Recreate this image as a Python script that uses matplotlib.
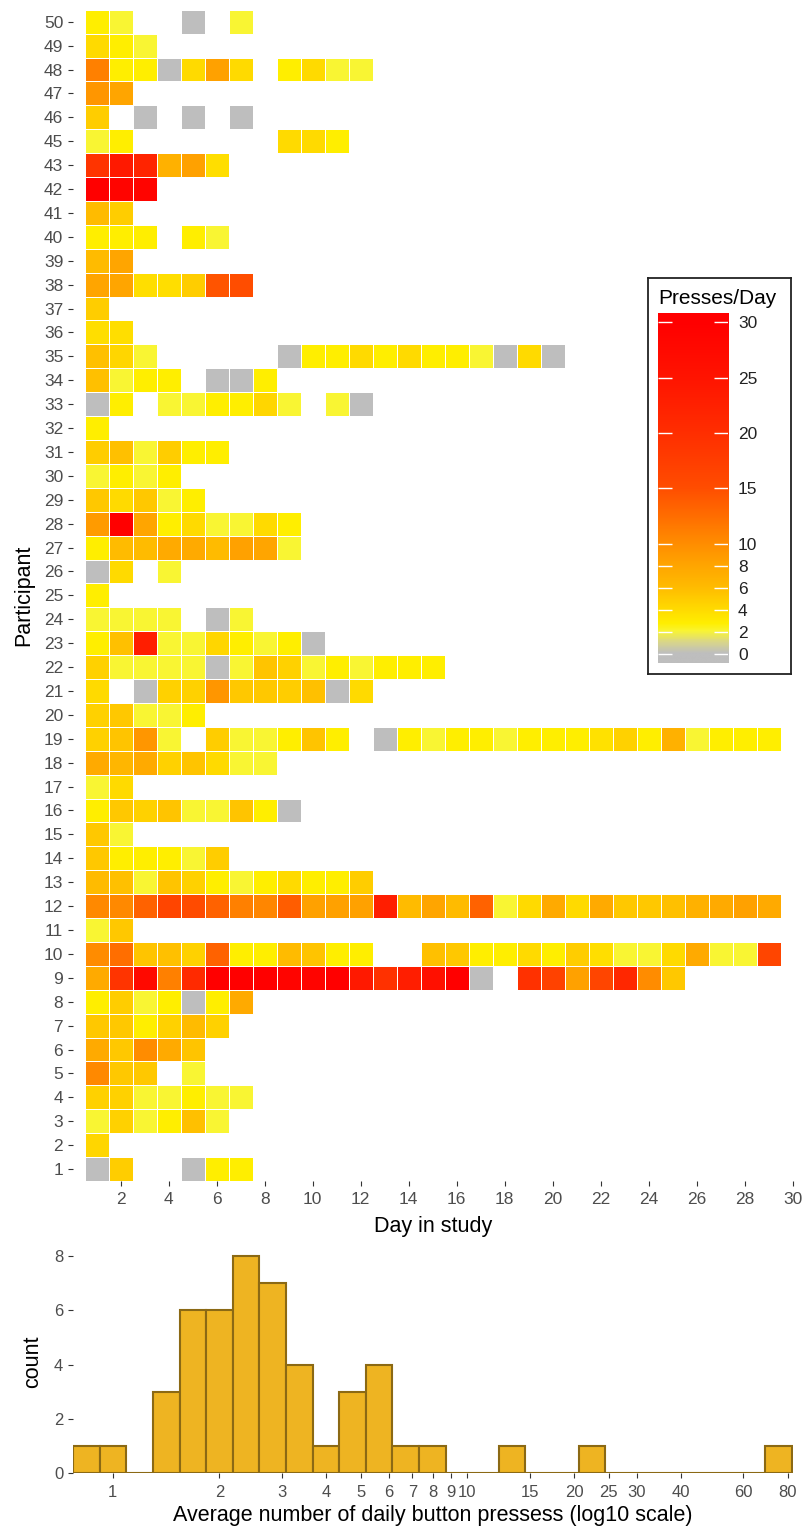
import numpy as np
import matplotlib.pyplot as plt
from matplotlib.colors import LinearSegmentedColormap, Normalize

plt.rcParams['font.family'] = ['Liberation Sans', 'DejaVu Sans']

# presses per day, day 1 onwards (None = no record that day)
p1 = [0, 4.9, None, None, 0, 2.7, 2.7]
p2 = [4.3]
p3 = [2, 4.6, 2, 2.7, 5.7, 2]
p4 = [4.6, 4.6, 2, 2, 2.7, 2, 2]
p5 = [10.3, 5.2, 5.2, None, 2]
p6 = [7.5, 5.2, 10, 7.5, 5.5]
p7 = [5.2, 5.2, 2.7, 4.6, 6, 4.6]
p8 = [2.7, 4.9, 2, 2.7, 0, 2.7, 7.5]
p9 = [7.5, 19, 27.6, 11, 20.8, 30, 30, 30, 29, 29, 30, 24, 19.5, 23, 26, 30, 0, None,
      19.5, 16.8, 8.4, 16.2, 21.3, 10, 5.2]
p10 = [10, 12.4, 5.5, 5.7, 4.6, 13.3, 2.7, 2.7, 6, 5.5, 2.7, 2.7, None, None, 5.7, 5.2,
       2.7, 2.7, 4.1, 2.7, 4.9, 3.8, 2, 2, 4.1, 7.5, 2, 2, 16.2]
p11 = [2, 5.2]
p12 = [10.3, 10.3, 13.3, 16.2, 15.3, 13.3, 11, 10.5, 13.8, 8.4, 8.4, 8.4, 23, 6, 8, 6,
       13.3, 2, 4.1, 7.5, 4.1, 7.5, 5.2, 5.2, 5.7, 7, 7.5, 8.4, 7.5]
p13 = [6, 5.7, 2, 5.5, 4.6, 2.7, 2, 2.7, 4.1, 2.7, 2.7, 4.9]
p14 = [5.2, 2.7, 2.7, 2.7, 2, 4.9]
p15 = [5.2, 2]
p16 = [2.7, 5.2, 4.6, 5.5, 2, 2, 5.5, 2.7, 0]
p17 = [2, 4.1]
p18 = [7.5, 6.5, 7.5, 4.6, 5.5, 4.1, 2, 2]
p19 = [4.6, 5.5, 9.2, 2, None, 4.9, 2, 2, 2.7, 5.5, 2.7, None, 0, 2.7, 2, 2.7, 2.7, 2,
       2.7, 2.7, 2.7, 3.6, 4.6, 2.7, 7, 2, 2.7, 2.7, 2.7]
p20 = [4.6, 5.2, 2, 2, 2.7]
p21 = [4.1, None, 0, 4.6, 4.6, 9.2, 5.2, 5.2, 4.9, 5.7, 0, 4.1]
p22 = [4.6, 2, 2, 2, 2, 0, 2, 5.5, 4.6, 2, 2.7, 2, 2.7, 2.7, 2.7]
p23 = [2.7, 5.7, 23, 2, 2, 4.3, 2.7, 2, 2.7, 0]
p24 = [2, 2, 2, 2, None, 0, 2]
p25 = [2.7]
p26 = [0, 4.1, None, 2]
p27 = [2.7, 6, 6, 7.5, 7.5, 6, 8.4, 8, 2]
p28 = [8.9, 30, 8, 2.7, 4.1, 2, 2, 4.1, 2.7]
p29 = [5.2, 4.1, 5.2, 2, 2.7]
p30 = [2, 2.7, 2, 2.7]
p31 = [4.9, 5.7, 2, 4.9, 2.7, 2.7]
p32 = [2.7]
p33 = [0, 2.7, None, 2, 2, 2.7, 2.7, 4.3, 2, None, 2, 0]
p34 = [5.7, 2, 2.7, 2.7, None, 0, 0, 2.7]
p35 = [5.7, 4.3, 2, None, None, None, None, None, 0, 2.7, 2.7, 4.1, 2.7, 4.1, 2.7, 2.7,
       2, 0, 4.1, 0]
p36 = [3.8, 3.8]
p37 = [4.9]
p38 = [8, 8, 3.8, 3.8, 4.9, 14.5, 15]
p39 = [6, 8]
p40 = [2.7, 2.7, 2.7, None, 2.7, 2]
p41 = [6, 4.9]
p42 = [30, 29, 29]
p43 = [19, 24, 22, 7, 8.4, 3.8]
p45 = [2, 2.7, None, None, None, None, None, None, 4.1, 4.1, 2.7]
p46 = [4.9, None, 0, None, 0, None, 0]
p47 = [9.2, 8]
p48 = [11, 2.7, 2.7, 0, 4.1, 8.4, 4.1, None, 2.7, 4.1, 2, 2]
p49 = [4.1, 2.7, 2]
p50 = [2.7, 2, None, None, 0, None, 2]

participants = list(range(1, 44)) + list(range(45, 51))
rows = [p1, p2, p3, p4, p5, p6, p7, p8, p9, p10, p11, p12, p13, p14, p15, p16, p17,
        p18, p19, p20, p21, p22, p23, p24, p25, p26, p27, p28, p29, p30, p31, p32, p33,
        p34, p35, p36, p37, p38, p39, p40, p41, p42, p43, p45, p46, p47, p48, p49, p50]
days = list(range(1, 30))
day_ticks = list(range(2, 31, 2))
legend_ticks = [0, 2, 4, 6, 8, 10, 15, 20, 25, 30]

# histogram of average daily presses, equal bins on log10 scale
hist_counts = [1, 1, 0, 3, 6, 6, 8, 7, 4, 1, 3, 4, 1, 1, 0, 0, 1, 0, 0, 1, 0, 0, 0, 0, 0, 0, 1]
hist_first_edge = 0.774
hist_log_step = 0.075
hist_ticks = [1, 2, 3, 4, 5, 6, 7, 8, 9, 10, 15, 20, 25, 30, 40, 60, 80]

# grey -> yellow -> orange -> red, linear in presses/day
nodes = [(0, '#BEBEBE'), (1, '#D9D68A'), (2, '#F9F533'), (2.7, '#FFEE00'), (4, '#FFDA00'),
         (6, '#FFBB00'), (8, '#FFA500'), (10, '#FF8C00'), (15, '#FF4D00'),
         (20, '#FF2E00'), (25, '#FF1400'), (30, '#FF0000')]
cmap = LinearSegmentedColormap.from_list('presses', [(v / 30, c) for v, c in nodes])
norm = Normalize(0, 30)

Z = np.full((len(participants), len(days)), np.nan)
for i, r in enumerate(rows):
    for j, v in enumerate(r):
        if v is not None:
            Z[i, j] = v
Z = np.ma.masked_invalid(Z)

tick_col = '#4D4D4D'
fig = plt.figure(figsize=(8.04, 15.26), dpi=100)

# heatmap
ax = fig.add_axes([0.0904, 0.2261, 0.8955, 0.7675])
ax.pcolormesh(np.arange(0.5, len(days) + 1), np.arange(-0.5, len(participants)), Z,
              cmap=cmap, norm=norm, edgecolors='white', linewidth=0.55)
ax.set_xlim(0, 30)
ax.set_ylim(-0.5, len(participants) - 0.5)
ax.set_xticks(day_ticks)
ax.set_yticks(range(len(participants)))
ax.set_yticklabels([str(p) for p in participants])
for s in ax.spines.values():
    s.set_visible(False)
ax.tick_params(length=3.3, width=0.8, color='#333333', labelcolor=tick_col, labelsize=12.5)
ax.tick_params(axis='x', pad=5)
ax.set_xlabel('Day in study', fontsize=15.5, labelpad=6)
ax.set_ylabel('Participant', fontsize=15.5, labelpad=7)

# legend box
lax = fig.add_axes([0.8056, 0.5583, 0.1782, 0.2595])
lax.set_xticks([])
lax.set_yticks([])
for s in lax.spines.values():
    s.set_color('#222222')
    s.set_linewidth(1.3)
fig.text(0.8188, 0.8045, 'Presses/Day', fontsize=15, va='center', ha='left')

cax = fig.add_axes([0.8188, 0.5653, 0.0871, 0.2294])
grad = np.linspace(-0.81, 30.81, 500).reshape(-1, 1)
cax.imshow(grad, cmap=cmap, norm=norm, aspect='auto', origin='lower',
           extent=[0, 1, -0.81, 30.81])
cax.hlines(legend_ticks, 0, 0.2, color='white', lw=1)
cax.hlines(legend_ticks, 0.8, 1, color='white', lw=1)
cax.set_xlim(0, 1)
cax.set_ylim(-0.81, 30.81)
cax.set_xticks([])
cax.yaxis.tick_right()
cax.set_yticks(legend_ticks)
cax.tick_params(length=0, pad=7, labelsize=12.5, labelcolor='#222222')
for s in cax.spines.values():
    s.set_visible(False)

# histogram
edges = 10 ** (np.log10(hist_first_edge) + hist_log_step * np.arange(len(hist_counts) + 1))
hax = fig.add_axes([0.0904, 0.0346, 0.8955, 0.1456])
hax.set_xscale('log')
hax.bar(edges[:-1], hist_counts, width=np.diff(edges), align='edge',
        color='#EEB422', edgecolor='#8B6914', linewidth=1.5)
hax.set_xlim(0.7715, 82.6)
hax.set_ylim(-0.02, 8.2)
hax.set_xticks(hist_ticks)
hax.set_xticklabels([str(t) for t in hist_ticks])
hax.xaxis.set_minor_locator(plt.NullLocator())
hax.set_yticks([0, 2, 4, 6, 8])
for s in hax.spines.values():
    s.set_visible(False)
hax.tick_params(length=3.3, width=0.8, color='#333333', labelcolor=tick_col, labelsize=12)
hax.tick_params(axis='x', pad=5)
hax.set_xlabel('Average number of daily button pressess (log10 scale)', fontsize=15.5, labelpad=4)
hax.set_ylabel('count', fontsize=15.5, labelpad=8)

fig.savefig('out.png', dpi=100)
